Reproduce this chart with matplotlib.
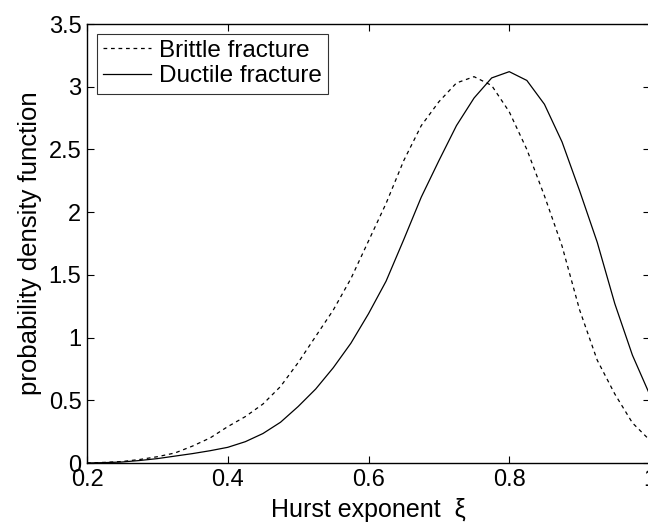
import matplotlib
matplotlib.use("Agg")
import matplotlib.pyplot as plt
from matplotlib.ticker import FuncFormatter

x = [0.20, 0.225, 0.25, 0.275, 0.30, 0.325, 0.35, 0.375, 0.40, 0.425, 0.45, 0.475,
     0.50, 0.525, 0.55, 0.575, 0.60, 0.625, 0.65, 0.675, 0.70, 0.725, 0.75, 0.775,
     0.80, 0.825, 0.85, 0.875, 0.90, 0.925, 0.95, 0.975, 1.00]

brittle = [0.0, 0.005, 0.012, 0.028, 0.05, 0.08, 0.135, 0.2, 0.29, 0.37, 0.47, 0.61,
           0.80, 1.01, 1.22, 1.47, 1.77, 2.07, 2.41, 2.69, 2.88, 3.03, 3.08, 3.01,
           2.80, 2.50, 2.13, 1.73, 1.22, 0.82, 0.55, 0.32, 0.18]

ductile = [0.0, 0.003, 0.008, 0.02, 0.035, 0.055, 0.075, 0.098, 0.125, 0.17, 0.235, 0.325,
           0.45, 0.59, 0.76, 0.955, 1.19, 1.45, 1.78, 2.12, 2.41, 2.69, 2.91, 3.07,
           3.12, 3.05, 2.86, 2.56, 2.17, 1.76, 1.27, 0.86, 0.54]

xticks = [0.2, 0.4, 0.6, 0.8, 1.0]
yticks = [0, 0.5, 1, 1.5, 2, 2.5, 3, 3.5]

plt.rcParams['font.family'] = ['Liberation Sans', 'DejaVu Sans']

fig = plt.figure(figsize=(6.48, 5.23), dpi=100)
ax = fig.add_axes([87/648, 60/523, 563/648, 439/523])

ax.plot(x, brittle, color='black', lw=0.9, linestyle=(0, (3, 3)), label='Brittle fracture')
ax.plot(x, ductile, color='black', lw=0.9, linestyle='-', label='Ductile fracture')

ax.set_xlim(0.2, 1.0)
ax.set_ylim(0, 3.5)
ax.set_xticks(xticks)
ax.set_yticks(yticks)
fmt = FuncFormatter(lambda v, p: '%g' % v)
ax.xaxis.set_major_formatter(fmt)
ax.yaxis.set_major_formatter(fmt)
ax.tick_params(direction='in', top=True, right=True, length=5, width=0.8,
               labelsize=17)
ax.tick_params(axis='x', pad=4)
ax.tick_params(axis='y', pad=4)
for s in ax.spines.values():
    s.set_linewidth(1.0)

ax.set_xlabel('Hurst exponent  \u03be', fontsize=18, labelpad=5)
ax.set_ylabel('probability density function', fontsize=18.5, labelpad=5)

leg = ax.legend(loc='upper left', fontsize=17.5, frameon=True, fancybox=False,
                edgecolor='black', handlelength=2.0, borderaxespad=0.4,
                borderpad=0.25, labelspacing=0.15, handletextpad=0.3)
leg.get_frame().set_linewidth(0.8)

fig.savefig('out.png', dpi=100)
